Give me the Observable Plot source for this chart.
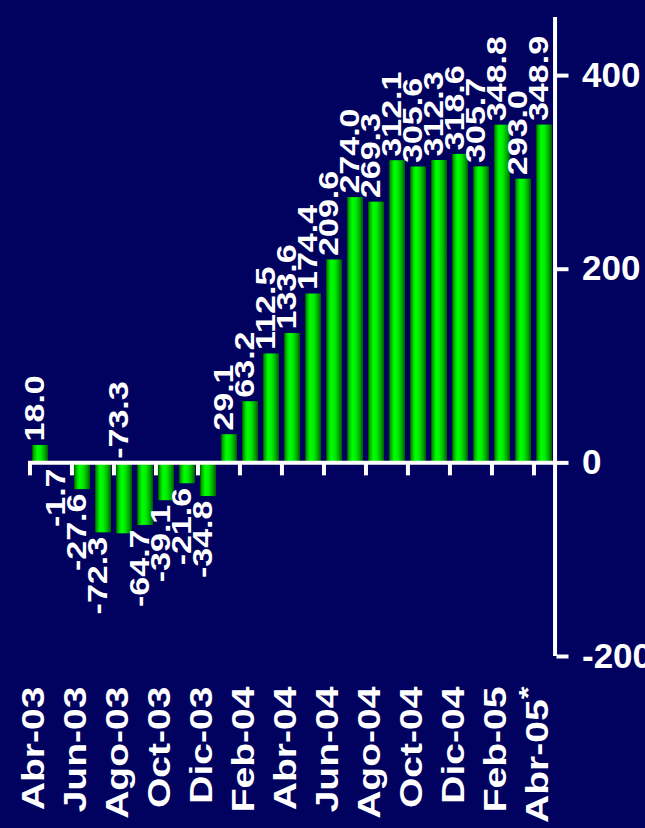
<!DOCTYPE html>
<html><head><meta charset="utf-8">
<script src="https://cdn.jsdelivr.net/npm/d3@7"></script>
<script src="https://cdn.jsdelivr.net/npm/@observablehq/plot@0.6"></script>
<style>
html,body{margin:0;padding:0;background:#01015f;}
#chart{width:645px;height:828px;overflow:hidden;}
</style></head><body><div id="chart"></div>
<script>
const months = ["Abr-03","May-03","Jun-03","Jul-03","Ago-03","Sep-03","Oct-03","Nov-03","Dic-03","Ene-04","Feb-04","Mar-04","Abr-04","May-04","Jun-04","Jul-04","Ago-04","Sep-04","Oct-04","Nov-04","Dic-04","Ene-05","Feb-05","Mar-05","Abr-05"];
const values = [18.0,-1.7,-27.6,-72.3,-73.3,-64.7,-39.1,-21.6,-34.8,29.1,63.2,112.5,133.6,174.4,209.6,274.0,269.3,312.1,305.6,312.3,318.6,305.7,348.8,293.0,348.9];
const valueLabels = ["18.0","-1.7","-27.6","-72.3","-73.3","-64.7","-39.1","-21.6","-34.8","29.1","63.2","112.5","133.6","174.4","209.6","274.0","269.3","312.1","305.6","312.3","318.6","305.7","348.8","293.0","348.9"];
const tickMonths = ["Abr-03","Jun-03","Ago-03","Oct-03","Dic-03","Feb-04","Abr-04","Jun-04","Ago-04","Oct-04","Dic-04","Feb-05","Abr-05"];
const tickLabels = ["Abr-03","Jun-03","Ago-03","Oct-03","Dic-03","Feb-04","Abr-04","Jun-04","Ago-04","Oct-04","Dic-04","Feb-05","Abr-05*"];
const yTicks = [-200, 0, 200, 400];
const yTickLabels = ["-200", "0", "200", "400"];

const data = months.map((m, i) => ({month: m, value: values[i], label: valueLabels[i]}));
const minValue = d3.min(values);
const pos = data.filter(d => d.value >= 0);
const neg = data.filter(d => d.value < 0 && d.value !== minValue);
const low = data.filter(d => d.value === minValue);

const font = "'Liberation Sans', Arial, Helvetica, sans-serif";
const halfStep = 10.55;

const chart = Plot.plot({
  width: 645,
  height: 828,
  marginTop: 17,
  marginBottom: 172,
  marginLeft: 28,
  marginRight: 89.5,
  style: {background: "#01015f", color: "white", fontFamily: font, overflow: "hidden"},
  x: {domain: months, paddingInner: 0.24, paddingOuter: 0.12},
  y: {domain: [-200, 460]},
  marks: [
    Plot.barY(data, {x: "month", y: "value", fill: "url(#barGrad)"}),
    Plot.ruleY([0], {stroke: "white", strokeWidth: 4}),
    Plot.ruleX(tickMonths, {x: d => d, y1: 0, y2: 0, insetBottom: -13, dx: -halfStep, stroke: "white", strokeWidth: 4}),
    Plot.ruleX([months[months.length - 1]], {x: d => d, dx: halfStep, stroke: "white", strokeWidth: 4}),
    Plot.axisY({anchor: "right", ticks: yTicks, tickFormat: d => yTickLabels[yTicks.indexOf(d)], tickSize: 12, tickPadding: 14, fontSize: 35, fontWeight: "bold", strokeWidth: 4, label: null}),
    Plot.axisX({anchor: "bottom", ticks: tickMonths, tickSize: 0, tickPadding: 30, tickRotate: -90,
      tickFormat: d => tickLabels[tickMonths.indexOf(d)], fontSize: 31, fontWeight: "bold", dx: -6, label: null}),
    Plot.text(pos, {x: "month", y: "value", text: "label", rotate: -90, textAnchor: "start", dy: -4, dx: -5, fontSize: 27, fontWeight: "bold", fill: "white"}),
    Plot.text(neg, {x: "month", y: "value", text: "label", rotate: -90, textAnchor: "end", dy: 4, dx: -5, fontSize: 27, fontWeight: "bold", fill: "white"}),
    Plot.text(low, {x: "month", y: () => 0, text: "label", rotate: -90, textAnchor: "start", dy: -4, dx: -5, fontSize: 27, fontWeight: "bold", fill: "white"})
  ]
});

const svg = d3.select(chart);
const defs = svg.insert("defs", ":first-child");
const grad = defs.append("linearGradient").attr("id", "barGrad").attr("x1", "0").attr("x2", "1").attr("y1", "0").attr("y2", "0");
[["0%", "#004d00"], ["12%", "#00b000"], ["32%", "#00ff00"], ["55%", "#00ee00"], ["80%", "#00a800"], ["100%", "#005a00"]]
  .forEach(([o, c]) => grad.append("stop").attr("offset", o).attr("stop-color", c));

svg.selectAll("text").each(function() {
  const t = this.getAttribute("transform") || "";
  if (t.includes("rotate(-90)")) this.setAttribute("transform", t + " scale(1.26,1)");
  const s = this.textContent;
  if (s.endsWith("*") && this.childElementCount === 0) {
    const sel = d3.select(this);
    sel.text(s.slice(0, -1));
    sel.append("tspan").attr("dy", "-0.45em").attr("font-size", "26").text("*");
  }
});

document.getElementById("chart").appendChild(chart);
</script>
</body></html>
